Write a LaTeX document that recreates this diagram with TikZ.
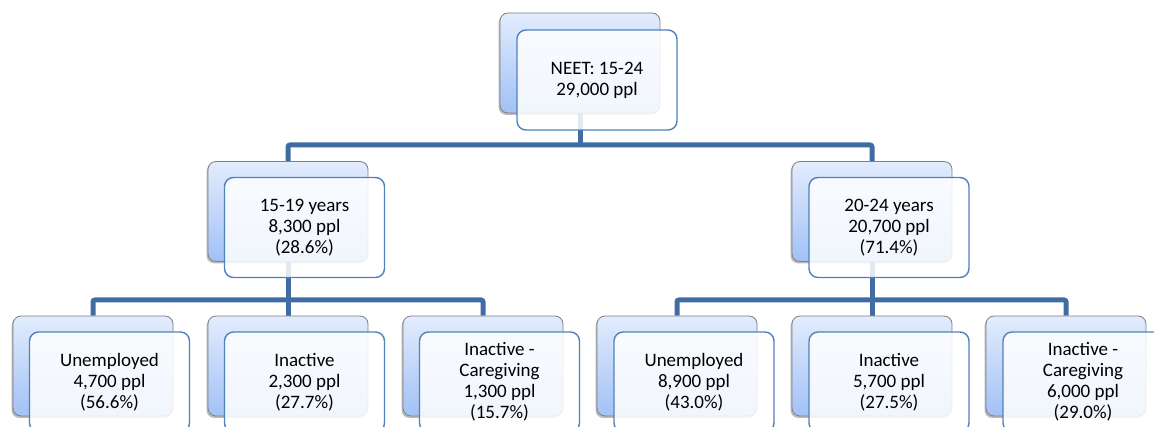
\documentclass[tikz,border=0pt]{standalone}
\usepackage{fontspec}
\setmainfont{Carlito}
\usetikzlibrary{shadows,backgrounds}
\definecolor{connblue}{RGB}{65,108,163}
\definecolor{frontblue}{RGB}{79,129,189}
\definecolor{backtop}{RGB}{226,236,253}
\definecolor{backbot}{RGB}{162,193,246}
\definecolor{backedge}{RGB}{128,128,128}
\tikzset{
 backbox/.style={draw=backedge, line width=0.8pt, rounded corners=8pt, top color=backtop, bottom color=backbot,
   minimum width=160pt, minimum height=100pt, inner sep=0pt,
   drop shadow={shadow xshift=-1.5pt, shadow yshift=-2pt, opacity=0.45, fill=black!60}},
 frontbox/.style={draw=frontblue, line width=1.4pt, rounded corners=9pt, fill=white, fill opacity=0.85, text opacity=1,
   minimum width=160pt, minimum height=100pt, inner sep=0pt, align=center, font=\fontsize{19}{21}\selectfont},
 conn/.style={draw=connblue, line width=5pt, rounded corners=2pt}
}
\begin{document}
\begin{tikzpicture}[x=1pt,y=-1pt]
\useasboundingbox (0,0) rectangle (1154,427);
% back boxes
\node[backbox] (topB) at (580,63) {};
\node[backbox] (mLB) at (288,211.5) {};
\node[backbox] (mRB) at (872,211.5) {};
\node[backbox] (b1B) at (93,366) {};
\node[backbox] (b2B) at (288,366) {};
\node[backbox] (b3B) at (483,366) {};
\node[backbox] (b4B) at (677,366) {};
\node[backbox] (b5B) at (872,366) {};
\node[backbox] (b6B) at (1066,366) {};
% front boxes
\node[frontbox] (top) at (597,80) {NEET: 15-24\\29,000 ppl};
\node[frontbox] (mL) at (304.5,227.5) {15-19 years\\8,300 ppl\\(28.6\%)};
\node[frontbox] (mR) at (889,227.5) {20-24 years\\20,700 ppl\\(71.4\%)};
\node[frontbox] (b1) at (109.5,382) {Unemployed\\4,700 ppl\\(56.6\%)};
\node[frontbox] (b2) at (304.5,382) {Inactive\\2,300 ppl\\(27.7\%)};
\node[frontbox] (b3) at (499.5,382) {Inactive -\\Caregiving\\1,300 ppl\\(15.7\%)};
\node[frontbox] (b4) at (694,382) {Unemployed\\8,900 ppl\\(43.0\%)};
\node[frontbox] (b5) at (889,382) {Inactive\\5,700 ppl\\(27.5\%)};
\node[frontbox] (b6) at (1083,382) {Inactive -\\Caregiving\\6,000 ppl\\(29.0\%)};
% connectors
\begin{scope}[on background layer]
\coordinate (j1) at (580,145);
\coordinate (j2) at (288,300);
\coordinate (j3) at (872,300);
\draw[conn] (topB.south) -- (j1);
\draw[conn] (mLB.north) |- (j1) -| (mRB.north);
\draw[conn] (mLB.south) -- (j2);
\draw[conn] (b1B.north) |- (j2) -| (b3B.north);
\draw[conn] (j2) -- (b2B.north);
\draw[conn] (mRB.south) -- (j3);
\draw[conn] (b4B.north) |- (j3) -| (b6B.north);
\draw[conn] (j3) -- (b5B.north);
\end{scope}
\end{tikzpicture}
\end{document}
